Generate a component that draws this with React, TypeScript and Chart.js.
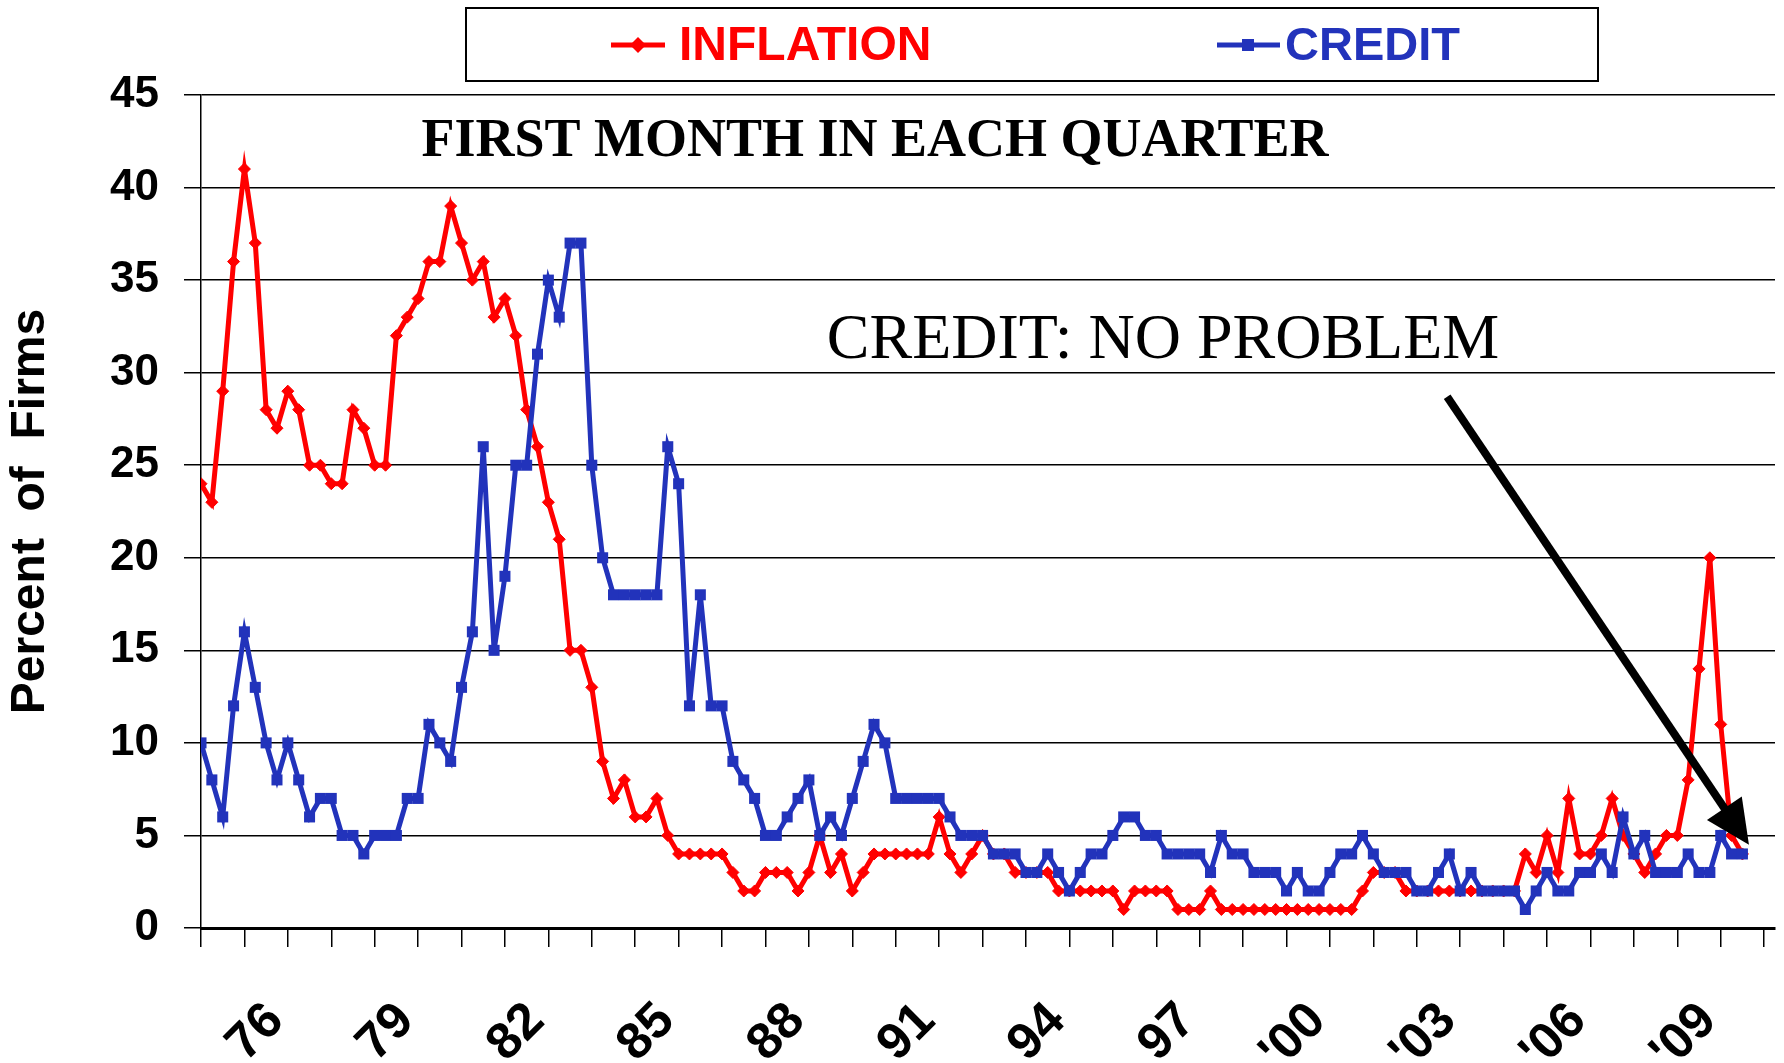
import React, { useEffect, useRef } from 'react';
import { Chart, registerables } from 'chart.js';

Chart.register(...registerables);

// Quarterly series, first month of each quarter, starting 1974 Q1
const START_YEAR = 1974;

const inflation: number[] = [
  24, 23, 29, 36, 41, 37, 28, 27, 29, 28, 25, 25, 24, 24, 28, 27, 25, 25, 32, 33,
  34, 36, 36, 39, 37, 35, 36, 33, 34, 32, 28, 26, 23, 21, 15, 15, 13, 9, 7, 8,
  6, 6, 7, 5, 4, 4, 4, 4, 4, 3, 2, 2, 3, 3, 3, 2, 3, 5, 3, 4,
  2, 3, 4, 4, 4, 4, 4, 4, 6, 4, 3, 4, 5, 4, 4, 3, 3, 3, 3, 2,
  2, 2, 2, 2, 2, 1, 2, 2, 2, 2, 1, 1, 1, 2, 1, 1, 1, 1, 1, 1,
  1, 1, 1, 1, 1, 1, 1, 2, 3, 3, 3, 2, 2, 2, 2, 2, 2, 2, 2, 2,
  2, 2, 4, 3, 5, 3, 7, 4, 4, 5, 7, 5, 4, 3, 4, 5, 5, 8, 14, 20, 11, 5, 4,
];

const credit: number[] = [
  10, 8, 6, 12, 16, 13, 10, 8, 10, 8, 6, 7, 7, 5, 5, 4, 5, 5, 5, 7,
  7, 11, 10, 9, 13, 16, 26, 15, 19, 25, 25, 31, 35, 33, 37, 37, 25, 20, 18, 18,
  18, 18, 18, 26, 24, 12, 18, 12, 12, 9, 8, 7, 5, 5, 6, 7, 8, 5, 6, 5,
  7, 9, 11, 10, 7, 7, 7, 7, 7, 6, 5, 5, 5, 4, 4, 4, 3, 3, 4, 3,
  2, 3, 4, 4, 5, 6, 6, 5, 5, 4, 4, 4, 4, 3, 5, 4, 4, 3, 3, 3,
  2, 3, 2, 2, 3, 4, 4, 5, 4, 3, 3, 3, 2, 2, 3, 4, 2, 3, 2, 2,
  2, 2, 1, 2, 3, 2, 2, 3, 3, 4, 3, 6, 4, 5, 3, 3, 3, 4, 3, 3, 5, 4, 4,
];

const labelYears: number[] = [1976, 1979, 1982, 1985, 1988, 1991, 1994, 1997, 2000, 2003, 2006, 2009];
const labelTexts: string[] = ['76', '79', '82', '85', '88', '91', '94', '97', "'00", "'03", "'06", "'09"];
const yearTicks: number = 36; // years spanned by the axis (1974..2010)
const yTicks = { min: 0, max: 45, step: 5 };

const RED = '#FF0000';
const BLUE = '#2233BB';
const SANS = '"Liberation Sans", Arial, sans-serif';
const SERIF = '"Liberation Serif", "Times New Roman", serif';

function labelFor(value: number): string {
  for (let k = 0; k < labelYears.length; k++) {
    if ((labelYears[k] - START_YEAR) * 4 === value) return labelTexts[k];
  }
  return '';
}

function drawDiamond(ctx: CanvasRenderingContext2D, x: number, y: number, r: number) {
  ctx.beginPath();
  ctx.moveTo(x - r, y);
  ctx.lineTo(x, y - r);
  ctx.lineTo(x + r, y);
  ctx.lineTo(x, y + r);
  ctx.closePath();
  ctx.fill();
}

const overlayPlugin = {
  id: 'overlay',
  beforeDraw(chart: any) {
    const ctx = chart.ctx;
    ctx.save();
    ctx.fillStyle = '#fff';
    ctx.fillRect(0, 0, chart.width, chart.height);
    ctx.restore();
  },
  afterDraw(chart: any) {
    const ctx: CanvasRenderingContext2D = chart.ctx;
    const xs = chart.scales.x;
    const ys = chart.scales.y;
    ctx.save();

    // Legend box
    ctx.strokeStyle = '#000';
    ctx.lineWidth = 2;
    ctx.strokeRect(466, 8, 1132, 73);

    // Inflation legend entry
    ctx.strokeStyle = RED;
    ctx.fillStyle = RED;
    ctx.lineWidth = 5;
    ctx.beginPath();
    ctx.moveTo(611, 45);
    ctx.lineTo(665, 45);
    ctx.stroke();
    drawDiamond(ctx, 638, 45, 8);
    ctx.font = `bold 48px ${SANS}`;
    ctx.textAlign = 'left';
    ctx.textBaseline = 'middle';
    ctx.fillText('INFLATION', 679, 47);

    // Credit legend entry
    ctx.strokeStyle = BLUE;
    ctx.fillStyle = BLUE;
    ctx.lineWidth = 5;
    ctx.beginPath();
    ctx.moveTo(1217, 45);
    ctx.lineTo(1280, 45);
    ctx.stroke();
    ctx.fillRect(1242, 39, 12, 12);
    ctx.font = `bold 47px ${SANS}`;
    ctx.fillText('CREDIT', 1285, 47);

    // Annotations
    ctx.fillStyle = '#000';
    ctx.textAlign = 'center';
    ctx.textBaseline = 'alphabetic';
    ctx.font = `bold 54px ${SERIF}`;
    ctx.fillText('FIRST MONTH IN EACH QUARTER', 875, 156);
    ctx.font = `64px ${SERIF}`;
    ctx.fillText('CREDIT: NO PROBLEM', 1163, 358);

    // Arrow (in data coordinates)
    const x0 = xs.getPixelForValue(114.8);
    const y0 = ys.getPixelForValue(28.7);
    const x1 = xs.getPixelForValue(142.6);
    const y1 = ys.getPixelForValue(4.5);
    const dx = x1 - x0;
    const dy = y1 - y0;
    const len = Math.sqrt(dx * dx + dy * dy);
    const ux = dx / len;
    const uy = dy / len;
    const headLen = 44;
    const headHalf = 21;
    const bx = x1 - ux * headLen;
    const by = y1 - uy * headLen;
    ctx.strokeStyle = '#000';
    ctx.lineWidth = 8;
    ctx.lineCap = 'butt';
    ctx.beginPath();
    ctx.moveTo(x0, y0);
    ctx.lineTo(bx + ux * 4, by + uy * 4);
    ctx.stroke();
    ctx.fillStyle = '#000';
    ctx.beginPath();
    ctx.moveTo(x1, y1);
    ctx.lineTo(bx - uy * headHalf, by + ux * headHalf);
    ctx.lineTo(bx + uy * headHalf, by - ux * headHalf);
    ctx.closePath();
    ctx.fill();

    ctx.restore();
  },
};

export default function App() {
  const canvasRef = useRef<HTMLCanvasElement | null>(null);

  useEffect(() => {
    const canvas = canvasRef.current;
    if (!canvas) return;
    const chart = new Chart(canvas, {
      type: 'line',
      data: {
        datasets: [
          {
            label: 'CREDIT',
            data: credit.map((v, i) => ({ x: i, y: v })),
            borderColor: BLUE,
            backgroundColor: BLUE,
            borderWidth: 5,
            pointStyle: 'rect',
            pointRadius: 7.8,
            pointBorderWidth: 0,
            pointBackgroundColor: BLUE,
            tension: 0,
            order: 1,
          },
          {
            label: 'INFLATION',
            data: inflation.map((v, i) => ({ x: i, y: v })),
            borderColor: RED,
            backgroundColor: RED,
            borderWidth: 5,
            pointStyle: 'rectRot',
            pointRadius: 6,
            pointBorderWidth: 1,
            pointBackgroundColor: RED,
            tension: 0,
            order: 2,
          },
        ],
      },
      options: {
        responsive: false,
        animation: false,
        devicePixelRatio: 1,
        layout: { padding: { left: 0, top: 95, right: 9, bottom: 0 } },
        plugins: {
          legend: { display: false },
          tooltip: { enabled: false },
          title: { display: false },
        },
        scales: {
          x: {
            type: 'linear',
            min: 0,
            max: 145,
            afterBuildTicks: (s: any) => {
              const t: any[] = [];
              for (let k = 0; k <= yearTicks; k++) t.push({ value: k * 4 });
              s.ticks = t;
            },
            afterFit: (s: any) => {
              s.height = 135;
              s.paddingLeft = 0;
              s.paddingRight = 0;
            },
            grid: {
              drawOnChartArea: false,
              drawTicks: true,
              tickLength: 19,
              color: '#000',
              lineWidth: 1.5,
            },
            border: { display: true, color: '#000', width: 3 },
            ticks: {
              autoSkip: false,
              minRotation: 45,
              maxRotation: 45,
              padding: 44,
              labelOffset: -12,
              color: '#000',
              font: { family: SANS, size: 51, weight: 'bold' },
              callback: (v: any) => labelFor(Number(v)),
            },
          },
          y: {
            min: yTicks.min,
            max: yTicks.max,
            afterFit: (s: any) => {
              s.width = 201;
              s.paddingTop = 0;
              s.paddingBottom = 0;
            },
            ticks: {
              stepSize: yTicks.step,
              padding: 25,
              color: '#000',
              font: { family: SANS, size: 44, weight: 'bold' },
            },
            grid: { color: '#000', lineWidth: 1.5, tickLength: 17, drawTicks: true },
            border: { display: true, color: '#000', width: 1.5 },
            title: {
              display: true,
              text: 'Percent  of  Firms',
              color: '#000',
              font: { family: SANS, size: 48, weight: 'bold' },
              padding: { top: 2, bottom: 0 },
            },
          },
        },
      },
      plugins: [overlayPlugin],
    } as any);
    return () => chart.destroy();
  }, []);

  return (
    <div style={{ position: 'fixed', left: 0, top: 0, width: 1784, height: 1063, background: '#fff' }}>
      <canvas ref={canvasRef} width={1784} height={1063} style={{ display: 'block' }} />
    </div>
  );
}
